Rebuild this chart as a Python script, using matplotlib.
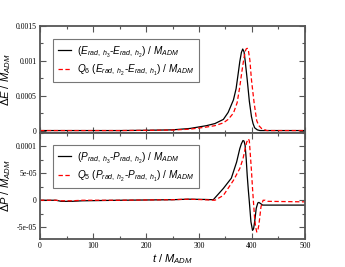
import matplotlib
matplotlib.use("Agg")
import matplotlib.pyplot as plt
from matplotlib.ticker import MultipleLocator, FixedLocator, FixedFormatter

# ---------------- data ----------------
tE_black = [0, 50, 100, 150, 200, 250, 283, 314, 330, 346, 355, 365, 370, 374, 377, 380,
            382.5, 385, 387, 391, 395, 399, 402, 405, 410, 415, 450, 500]
E_black = [0, 0, 0, 0, 0.000004, 0.00001, 0.00003, 0.00007, 0.0001, 0.00016, 0.00026,
           0.00044, 0.0006, 0.00082, 0.00099, 0.00112, 0.00117, 0.00113, 0.00101, 0.00073,
           0.00042, 0.0002, 0.0001, 0.00004, 0.00001, 0, 0, 0]

tE_red = [0, 50, 100, 150, 200, 250, 283, 314, 330, 346, 355, 365, 372, 377, 381, 384, 387,
          389, 391, 393, 396, 399, 402, 404, 407, 409, 413, 418, 428, 450, 500]
E_red = [0, 0, 0, 0, 0.000003, 0.000007, 0.00002, 0.00005, 0.00007, 0.00011, 0.00016,
         0.00025, 0.0004, 0.00063, 0.00085, 0.001, 0.00113, 0.00117, 0.00118, 0.00116,
         0.00101, 0.00073, 0.00053, 0.0004, 0.00024, 0.00014, 0.00007, 0.00003, 0, 0, 0]

tP_black = [0, 30, 40, 60, 80, 150, 250, 280, 310, 327, 346, 361, 371, 377, 380, 383, 385,
            387, 389, 391, 393, 395, 398, 401, 403, 405, 408, 411, 413, 416, 420, 500]
P_black = [0, 0, -2e-6, -2e-6, -1e-6, 0, 1e-6, 2e-6, 1.5e-6, 1e-6, 2.2e-5, 4.1e-5, 7.1e-5,
           9.6e-5, 1.05e-4, 1.11e-4, 1.1e-4, 1.02e-4, 7.8e-5, 4.6e-5, 2e-5, -3e-6, -4e-5,
           -5.6e-5, -5.3e-5, -4e-5, -1.5e-5, -5e-6, -4e-6, -6e-6, -9e-6, -9e-6]

tP_red = [0, 30, 40, 60, 80, 150, 250, 280, 310, 330, 346, 365, 377, 383, 387, 390, 393.5,
          395, 397, 399, 401, 403, 405, 407, 409, 411, 413, 417, 421, 425, 430, 500]
P_red = [0, 0, -1e-6, -1e-6, 0, 0, 1e-6, 2e-6, 1e-6, 0, 9e-6, 3.7e-5, 5.9e-5, 7.7e-5,
         9.5e-5, 1.08e-4, 1.14e-4, 1.1e-4, 8.3e-5, 5.5e-5, 2.2e-5, -6e-6, -3.4e-5, -5e-5,
         -5.9e-5, -5.6e-5, -4.6e-5, -1.2e-5, 0, 0, -2e-6, -3e-6]

E_ticks = [0, 0.0005, 0.001, 0.0015]
E_ticklabels = ["0", "0.0005", "0.001", "0.0015"]
P_ticks = [-5e-05, 0, 5e-05, 0.0001]
P_ticklabels = ["-5e-05", "0", "5e-05", "0.0001"]
t_ticks = [0, 100, 200, 300, 400, 500]
t_ticklabels = ["0", "100", "200", "300", "400", "500"]

labE1 = r"$(E_{rad,\ h_3}$-$E_{rad,\ h_2})$ / $M_{ADM}$"
labE2 = r"$Q_6\ (E_{rad,\ h_2}$-$E_{rad,\ h_1})$ / $M_{ADM}$"
labP1 = r"$(P_{rad,\ h_3}$-$P_{rad,\ h_2})$ / $M_{ADM}$"
labP2 = r"$Q_5\ (P_{rad,\ h_2}$-$P_{rad,\ h_1})$ / $M_{ADM}$"

# ---------------- style ----------------
plt.rcParams["font.family"] = ["Liberation Sans", "DejaVu Sans"]
plt.rcParams["mathtext.fontset"] = "custom"
plt.rcParams["mathtext.rm"] = "Liberation Sans"
plt.rcParams["mathtext.it"] = "Liberation Sans:italic"
plt.rcParams["mathtext.bf"] = "Liberation Sans:bold"

frame_col = "#555555"
fig = plt.figure(figsize=(3.45, 2.67), dpi=100)
axE = fig.add_axes([0.116, 0.5019, 0.768, 0.4007])
axP = fig.add_axes([0.116, 0.1049, 0.768, 0.3970])

axE.plot(tE_black, E_black, color="black", lw=0.9, label=labE1)
axE.plot(tE_red, E_red, color="red", lw=0.9, ls=(0, (3.5, 2)), label=labE2)
axP.plot(tP_black, P_black, color="black", lw=0.9, label=labP1)
axP.plot(tP_red, P_red, color="red", lw=0.9, ls=(0, (3.5, 2)), label=labP2)

axE.set_xlim(0, 500)
axP.set_xlim(0, 500)
axE.set_ylim(-3.5e-5, 0.0015)
axP.set_ylim(-7.2e-5, 1.25e-4)

for ax, yt, ytl in ((axE, E_ticks, E_ticklabels), (axP, P_ticks, P_ticklabels)):
    ax.xaxis.set_major_locator(FixedLocator(t_ticks))
    ax.xaxis.set_minor_locator(MultipleLocator(50))
    ax.yaxis.set_major_locator(FixedLocator(yt))
    ax.yaxis.set_major_formatter(FixedFormatter(ytl))
    step = yt[1] - yt[0]
    ax.yaxis.set_minor_locator(MultipleLocator(step / 2))
    ax.tick_params(which="both", direction="in", top=True, right=True,
                   color=frame_col, width=0.8, pad=2.5)
    ax.tick_params(which="major", length=4)
    ax.tick_params(which="minor", length=2)
    for lab in ax.get_yticklabels():
        lab.set_fontfamily("Liberation Serif")
        lab.set_fontsize(5.6)
    for s in ax.spines.values():
        s.set_color(frame_col)
        s.set_linewidth(1.3)

axE.tick_params(labelbottom=False)
axP.xaxis.set_major_formatter(FixedFormatter(t_ticklabels))
for lab in axP.get_xticklabels():
    lab.set_fontfamily("Liberation Serif")
    lab.set_fontsize(5.6)

axE.set_ylabel(r"$\Delta E\ /\ M_{ADM}$", fontsize=8)
axP.set_ylabel(r"$\Delta P\ /\ M_{ADM}$", fontsize=8)
axP.set_xlabel(r"$t\ /\ M_{ADM}$", fontsize=8, labelpad=1)
axE.yaxis.set_label_coords(-0.102, 0.5)
axP.yaxis.set_label_coords(-0.102, 0.5)

for ax, top in ((axE, 0.878), (axP, 0.887)):
    leg = ax.legend(loc="upper left", bbox_to_anchor=(0.049, top), borderaxespad=0,
                    fontsize=7.2, frameon=True, fancybox=False, handlelength=1.3,
                    handletextpad=0.6, borderpad=0.5, labelspacing=0.35)
    leg.get_frame().set_edgecolor(frame_col)
    leg.get_frame().set_linewidth(0.8)

fig.savefig("out.png", dpi=100)
